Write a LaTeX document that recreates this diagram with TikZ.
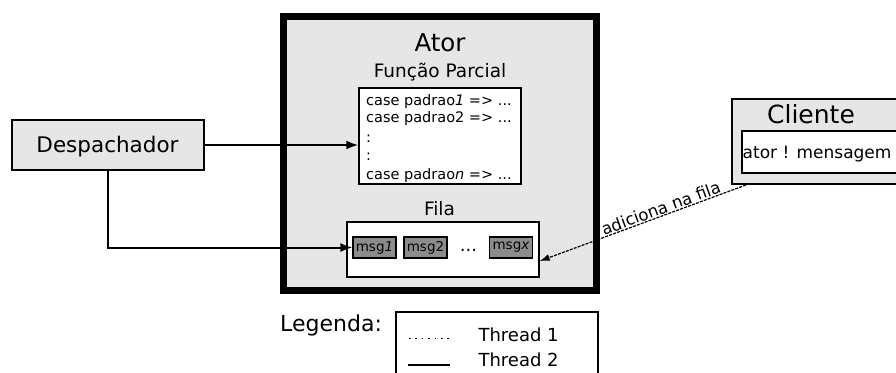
\documentclass[tikz,border=0pt]{standalone}
\usepackage{fontspec}
\setmainfont{DejaVu Sans}
\usetikzlibrary{arrows.meta}
\definecolor{panel}{HTML}{E6E6E6}
\definecolor{slot}{HTML}{8C8C8C}
\newcommand{\setfs}[1]{\fontsize{#1}{#1}\selectfont}
\tikzset{
  framebox/.style={draw, line width=1.5pt, fill=white, inner sep=0pt},
  slotbox/.style={draw, fill=slot, line width=1.2pt, minimum width=43pt,
    minimum height=21pt, inner sep=0pt, font=\setfs{13.5}},
  codeline/.style={anchor=base west, inner sep=0pt, font=\setfs{14.5}},
  flow/.style={line width=2pt, -{Latex[length=12pt,width=9pt]}},
  enqueue/.style={line width=1.2pt, dash pattern=on 3pt off 1.2pt,
    -{Latex[length=10pt,width=7pt]}},
}
\begin{document}
\begin{tikzpicture}[x=1pt,y=-1pt]
\useasboundingbox (0,0) rectangle (896,372);
\clip (0,0) rectangle (896,372);

% actor container
\node[draw, line width=7pt, fill=panel, minimum width=313pt,
  minimum height=273.5pt, inner sep=0pt] (ator) at (440,153.25) {};
\node[anchor=base, inner sep=0pt, font=\setfs{24.5}] (atortitle) at (440,51.7) {Ator};
\node[anchor=base, inner sep=0pt, font=\setfs{18.5}] (pftitle) at (440,77.7) {Função Parcial};

% partial function cases
\node[framebox, minimum width=162pt, minimum height=96pt] (pf) at (440,136) {};
\node[codeline] (c1) at (366,105.5) {case padrao\textit{1} => ...};
\node[codeline] (c2) at (366,122.7) {case padrao2 => ...};
\node[codeline] (c3) at (366,142.5) {:};
\node[codeline] (c4) at (366,160.5) {:};
\node[codeline] (c5) at (366,179.5) {case padrao\textit{n} => ...};

% mailbox queue
\node[anchor=base, inner sep=0pt, font=\setfs{18.5}] (filatitle) at (439.5,215) {Fila};
\node[framebox, minimum width=192pt, minimum height=55pt] (fila) at (443,249.5) {};
\node[slotbox] (m1) at (374.5,247.5) {msg\textit{1}};
\node[slotbox] (m2) at (425.5,247.5) {msg2};
\node[anchor=base, inner sep=0pt, font=\setfs{18}] (dots) at (468.5,251.5) {...};
\node[slotbox] (mx) at (511,247.5) {msg\textit{x}};

% dispatcher
\node[draw, fill=panel, line width=1.5pt, minimum width=192pt, minimum height=50pt,
  inner sep=0pt] (desp) at (108,145) {};
\node[anchor=base, inner sep=0pt, font=\setfs{21.5}] (desptext) at (107.5,152.7) {Despachador};

% client
\node[draw, fill=panel, line width=2pt, minimum width=180pt, minimum height=85pt,
  inner sep=0pt] (cliente) at (822,141.5) {};
\node[anchor=base, inner sep=0pt, font=\setfs{25}] (clititle) at (811,123.3) {Cliente};
\node[draw, fill=white, line width=1.5pt, minimum width=170pt, minimum height=42pt,
  inner sep=0pt] (send) at (827,152) {};
\node[anchor=base west, inner sep=0pt, font=\setfs{17}] (sendtext) at (742.5,158.5) {ator ! mensagem};

% connectors
\draw[flow] (desp.east) -- (desp.east -| pf.west);
\draw[flow] (desp.south) |- (m1.west);
\draw[enqueue] ([xshift=15pt]cliente.south west) --
  node[pos=0.4, sloped, above, inner sep=0.8pt, font=\setfs{16.5}] (addlabel) {adiciona na fila}
  ([yshift=-11.5pt]fila.east);

% legend
\node[anchor=base west, inner sep=0pt, font=\setfs{22}] (legtitle) at (280,331) {Legenda:};
\node[draw, line width=1.5pt, minimum width=202pt, minimum height=80pt,
  inner sep=0pt] (legend) at (497,352) {};
\coordinate (d1) at (409,338.3);
\coordinate (d2) at (452,338.3);
\coordinate (s1) at (408,365);
\coordinate (s2) at (450,365);
\draw[line width=1.6pt, dash pattern=on 1.6pt off 4.8pt] (d1) -- (d2);
\draw[line width=1.8pt] (s1) -- (s2);
\node[anchor=base west, inner sep=0pt, font=\setfs{18}] (t1) at (478.3,341.7) {Thread 1};
\node[anchor=base west, inner sep=0pt, font=\setfs{18}] (t2) at (478.3,366.7) {Thread 2};
\end{tikzpicture}
\end{document}
